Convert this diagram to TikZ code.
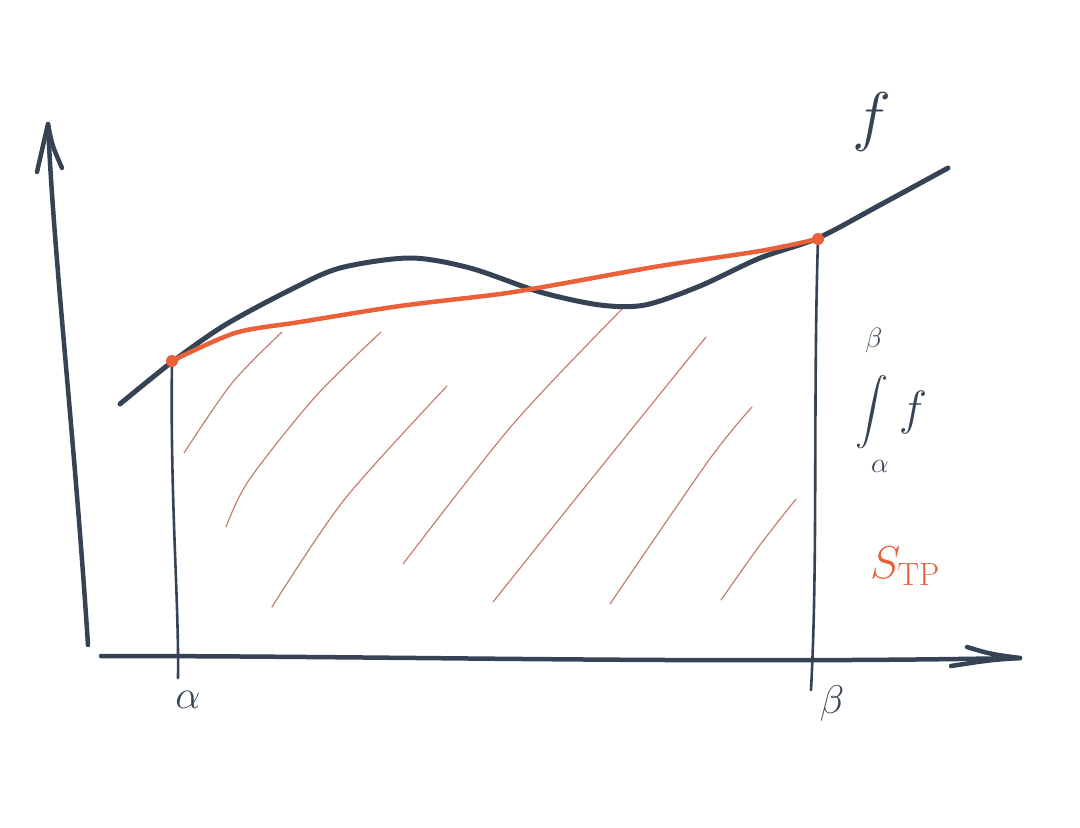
\RequirePackage{fix-cm}
\documentclass[tikz,border=0pt]{standalone}
\usepackage{amsmath}
\usepackage{graphicx}
\usetikzlibrary{positioning}
\definecolor{slate}{RGB}{54,67,84}
\definecolor{chordred}{RGB}{234,96,56}
\definecolor{hatchred}{RGB}{196,128,108}
\begin{document}
\begin{tikzpicture}[x=1pt,y=-1pt,line cap=round,line join=round,
  axisline/.style={slate,line width=4.5pt},
  fcurve/.style={slate,line width=5pt},
  guide/.style={slate,line width=2.6pt},
  chord/.style={chordred,line width=4.5pt},
  hatchline/.style={hatchred,line width=1.2pt},
  lbl/.style={text=slate,inner sep=0pt}]
  \useasboundingbox (0,0) rectangle (1080,828);
  % axes
  \coordinate (ybot) at (88,645);
  \coordinate (ytop) at (48,124);
  \coordinate (xleft) at (101,656);
  \coordinate (xright) at (1020,658);
  \draw[axisline] (ybot) .. controls (74,430) and (54,260) .. (ytop);
  \draw[axisline] (37,172) .. controls (42,150) .. (ytop) .. controls (52,145) .. (62,168);
  \draw[axisline] (xleft) .. controls (400,656) and (700,664) .. (xright);
  \draw[axisline] (967,647) .. controls (990,654) .. (xright) .. controls (990,660) .. (951,666);
  % bounds
  \coordinate (A) at (172,361);
  \coordinate (Abot) at (178,678);
  \coordinate (B) at (818,239);
  \coordinate (Bbot) at (811,690);
  \draw[guide] (A) .. controls (170,500) and (179,600) .. (Abot);
  \draw[guide] (B) .. controls (813,400) and (818,560) .. (Bbot);
  % hatching
  \draw[hatchline] plot[smooth] coordinates {(184,453) (232,383) (282,332)};
  \draw[hatchline] plot[smooth] coordinates {(226,527) (249,480) (315,397) (381,332)};
  \draw[hatchline] plot[smooth] coordinates {(272,607) (344,500) (447,386)};
  \draw[hatchline] plot[smooth] coordinates {(403,564) (514,423) (626,305)};
  \draw[hatchline] plot[smooth] coordinates {(493,602) (585,487) (706,337)};
  \draw[hatchline] plot[smooth] coordinates {(610,604) (709,460) (752,407)};
  \draw[hatchline] plot[smooth] coordinates {(721,600) (760,545) (796,499)};
  % function
  \draw[fcurve] plot[smooth] coordinates {(120,404) (172,362) (225,325) (290,290) (340,268) (410,258) (470,268) (540,292) (600,305) (645,305) (700,286) (760,258) (818,238) (880,205) (948,168)};
  % trapezoid chord
  \draw[chord] plot[smooth] coordinates {(A) (235,333) (300,322) (400,306) (500,294) (560,284) (660,266) (760,251) (B)};
  \fill[chordred] (A) circle (6);
  \fill[chordred] (B) circle (6);
  % labels
  \node[lbl] (intsign) at (872,412) {\scalebox{3.3}{$\displaystyle\int$}};
  \node[lbl,font=\fontsize{66}{72}\selectfont] (flab) at (872,122) {$f$};
  \node[lbl,font=\fontsize{28}{32}\selectfont] (intup) at (874,340) {$\beta$};
  \node[lbl,font=\fontsize{28}{32}\selectfont] (intlow) at (880,466) {$\alpha$};
  \node[lbl,font=\fontsize{48}{54}\selectfont] (intf) at (913,412) {$f$};
  \node[lbl,text=chordred,font=\fontsize{46}{50}\selectfont] (stplab) at (905,566) {$S_{\mathrm{TP}}$};
  \node[lbl,font=\fontsize{40}{44}\selectfont] (alab) at (188,700) {$\alpha$};
  \node[lbl,font=\fontsize{40}{44}\selectfont] (blab) at (832,703) {$\beta$};
\end{tikzpicture}
\end{document}
